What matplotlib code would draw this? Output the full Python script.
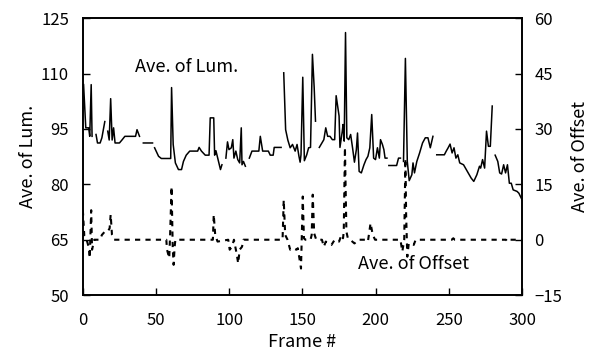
import matplotlib
matplotlib.use("Agg")
import matplotlib.pyplot as plt
import numpy as np

plt.rcParams['font.family'] = ['Noto Sans CJK JP', 'DejaVu Sans']

nan = np.nan

# average luminance (solid line), nan = gap
lum_frame = [0.5, 2, 4, 4.7, 5.7, 6.3, nan,
             9, 10, 11.8, 13, 15, nan,
             17, 18, 19, 20, 21, 22, 25, 26.7, 28.7, 32.7, 36, 37, 38.7, nan,
             41.3, 47.6, nan,
             49, 51.7, 53.6, 60, 60.6, 61.7, 62.7, 63.2, 65.3, 67.4, 68.7, 70.6, 73, 78.4, 79.4,
             81, 83.6, 86.2, 87, 89.4, 90, 90.9, 92.8, 94, 95, nan,
             97.7, 98.8, 99.8, 101.4, 102.4, 103.2, 104.5, 105.8, 107.1, 108.2, 108.7, 109.7, 111, nan,
             113.7, 115.5, 120.2, 121.2, 122.8, 126.7, 128, 130, 130.7, 135.4, nan,
             137.2, 138.5, 140, 141.6, 143.2, 145, 146.3, 147.6, 148.4, 149, 150.2, 151.3, 152.9,
             154.2, 155.5, 156.8, 158, 158.9, nan,
             161.5, 163.3, 164.6, 165.9, 167.2, 168.8, 170.4, 172, 173, 175, 175.6, 177.2, 177.7,
             178.5, 179.4, 180.3, 181.6, 182.9, 184.2, 185.5, 186.8, 187.6, 188.7, 190.2, 192,
             193.4, 194.7, 196, 197.3, 198.6, 199.9, 201.2, 202.5, 203.3, 204.6, 205.6, 206.4, 207.7, nan,
             209, 214.3, 215.6, 216.9, nan,
             219, 220.3, 221.6, 222.9, 224.7, 225.5, 226.5, 228.1, 230, 232, 233.9, 235.7, 237.3, 239.1, nan,
             241.7, 246.9, 248.2, 249.5, 250.8, 252.2, 253.5, 254.8, 256.1, 257.4, 260, 262.6, 265.2,
             267, 269.1, 270.9, 271.7, 273, 274.4, 275.7, 277, 278.3, 279.6, nan,
             281.6, 283.4, 284.7, 286, 287.4, 288.7, 290, 291.3, 292.6, 293.9, 296.5, 297.8, 300]
lum_value = [107, 95.3, 95.3, 93, 107, 93, nan,
             93.5, 91.2, 91.2, 92.6, 97, nan,
             94.4, 92, 103.2, 92, 95.3, 91.2, 91.2, 92, 93, 93, 93, 94.8, 93, nan,
             91.2, 91.2, nan,
             89.9, 87.6, 87, 87, 106.2, 90.8, 87.6, 85.8, 84, 84, 86.2, 87.9, 89, 89, 90,
             89, 87.9, 87.9, 98, 98, 87.9, 89.1, 86, 84, 85.3, nan,
             87.1, 91.5, 89.4, 89.9, 92.1, 87.1, 89, 86.7, 85.8, 95.3, 85.3, 86.2, 84.9, nan,
             87.1, 89, 89, 93, 89, 89, 87.9, 87.9, 90, 90, nan,
             110.2, 94.8, 92, 89.9, 90.8, 89, 90.8, 87.6, 86, 88, 109, 86.4, 88,
             89.9, 90, 115.2, 106.2, 97.1, nan,
             90, 91.2, 92.1, 95.3, 93, 93, 92.1, 92.1, 104, 98.5, 90, 94.4, 96.2,
             91.7, 121.1, 92.6, 92.1, 93.5, 89.9, 86, 89.4, 93.9, 83.5, 83.1, 85.3,
             86.7, 87.6, 89.9, 98.9, 87.1, 86.7, 89.9, 87.1, 92.1, 90.8, 89.4, 87.1, 87.1, nan,
             85.1, 85.1, 87.1, 87.1, nan,
             86.2, 114.1, 86.2, 81, 82.6, 85.8, 83.1, 86.2, 88.5, 91.2, 92.6, 92.6, 89.9, 93, nan,
             88, 88, 89, 89.9, 90.9, 88.5, 89.9, 87.1, 88, 85.8, 85.3, 83.5, 81.7,
             80.8, 82.6, 84.9, 84.4, 86.7, 84.4, 94.4, 90.3, 90.3, 101.2, nan,
             87.9, 86.2, 83.1, 82.8, 85.3, 83.1, 85.3, 80.3, 80.3, 78.5, 78.1, 77.6, 75.8]

# average offset (dashed line)
off_frame = [0, 1, 2.6, 4.2, 4.7, 5.7, 6.3, 7.8, 11.8, 13, 15, 17, 18.3, 19, 19.9, 21.4,
             57, 57.5, 59, 59.6, 60.6, 61.4, 62, 62.7, 63.2,
             88.8, 89.4, 90.4, 92, 99.3, 100.3, 101.9, 103.2, 105, 106.1, 107.1, 108.7, 109.7,
             136.4, 137.2, 138.2, 139.8, 141.6, 143.7, 145.8, 146.8, 147.9, 149, 150.2, 151, 152,
             155.5, 156.3, 157, 158, 159.4, 163.3, 164.6, 165.9, 167.8, 169.8, 172, 175, 176.6,
             177.7, 178.2, 179, 180, 181, 182.6, 185.5, 188.2, 192.9, 194.7, 196.5, 198, 199.6,
             216.9, 218.2, 219.5, 220.3, 220.8, 221.6, 222.6, 224.2, 226, 227.3,
             252, 253, 254, 289, 290, 291, 300]
off_value = [8, 1, 0, -2.3, -5, 8, -2.7, 0, 0, 1.3, 2.2, 2.2, 3.1, 6.8, 1.3, 0,
             0, -2.7, -5, 1.3, 14.4, -2.3, -6.8, -1.9, 0,
             0, 6.8, 1.3, -0.5, 0, -2.7, -1.9, 0, -3.7, -6.4, -2.7, -1.9, 0,
             0, 10.8, 1.3, 0, -2.7, -2.3, -2.7, -2.3, -5, -7.8, 11.7, 0.4, 0,
             0, 1.3, 12.2, 1.7, 0, 0, -1.9, -0.5, -1, -1.4, 0, -0.5, 1.3,
             0.4, 2.2, 25, 2.2, 0.4, 0, -1, 0, 0, -0.5, 4.5, 1.3, 0,
             0, -3.2, 0, 22, 6.8, -4.6, -1, -1, -1.4, 0,
             0, 0.4, 0, 0, -0.5, 0, 0]

fig = plt.figure(figsize=(5.96, 3.56), dpi=100)
ax = fig.add_axes([0.139, 0.171, 0.737, 0.778])
ax2 = ax.twinx()

ax.plot(lum_frame, lum_value, color='black', lw=1.1)
ax2.plot(off_frame, off_value, color='black', lw=1.5, dashes=(2.5, 2.5))

ax.set_xlim(0, 300)
ax.set_ylim(50, 125)
ax2.set_ylim(-15, 60)
ax.set_xticks([0, 50, 100, 150, 200, 250, 300])
ax.set_yticks([50, 65, 80, 95, 110, 125])
ax2.set_yticks([-15, 0, 15, 30, 45, 60])
ax2.set_yticklabels(['\u221215', '0', '15', '30', '45', '60'])

for a in (ax, ax2):
    a.tick_params(direction='in', labelsize=12, length=5, width=1)
    for s in a.spines.values():
        s.set_linewidth(1.2)
ax.tick_params(axis='x', pad=12)
ax.tick_params(axis='y', pad=10)
ax2.tick_params(axis='y', pad=9)

ax.set_xlabel('Frame #', fontsize=13, labelpad=3)
ax.set_ylabel('Ave. of Lum.', fontsize=13, labelpad=3)
ax2.set_ylabel('Ave. of Offset', fontsize=13, labelpad=6)

ax.text(35.5, 111.7, 'Ave. of Lum.', fontsize=13, va='center', ha='left')
ax.text(188, 58.5, 'Ave. of Offset', fontsize=13, va='center', ha='left')

fig.savefig('out.png', dpi=100)
